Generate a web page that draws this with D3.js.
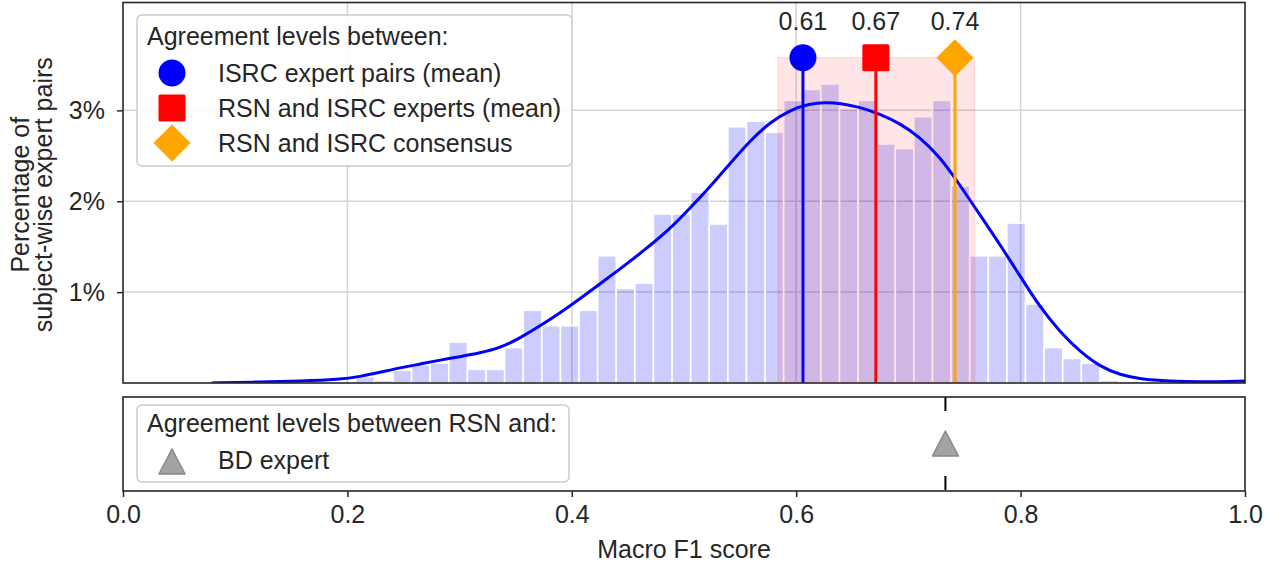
<!DOCTYPE html>
<html>
<head>
<meta charset="utf-8">
<script src="https://cdn.jsdelivr.net/npm/d3@7"></script>
<style>
  html, body { margin: 0; padding: 0; background: #fff; }
  svg { display: block; }
  text { font-family: "Liberation Sans", Arial, sans-serif; fill: #262626; }
</style>
</head>
<body>
<svg id="chart" width="1276" height="565"></svg>
<script>
// ---------------- data ----------------
const binStart = 0.2075;
const binWidth = 0.01658;
const histPct = [0.07, 0.03, 0.14, 0.20, 0.22, 0.45, 0.15, 0.15, 0.39, 0.80,
                 0.63, 0.63, 0.80, 1.40, 1.04, 1.10, 1.86, 1.86, 2.10, 1.75,
                 2.82, 2.88, 2.76, 3.11, 3.23, 3.29, 3.02, 3.11, 2.63, 2.58,
                 2.93, 3.11, 2.17, 1.40, 1.40, 1.76, 0.87, 0.39, 0.27, 0.22,
                 0.03, 0, 0, 0, 0, 0, 0, 0.03];
const kdeX = [0.079, 0.122, 0.158, 0.193, 0.211, 0.229, 0.247, 0.265, 0.283, 0.300,
              0.318, 0.336, 0.354, 0.372, 0.390, 0.407, 0.425, 0.443, 0.461,
              0.488, 0.505, 0.523, 0.541, 0.559, 0.577, 0.595, 0.612, 0.626, 0.639,
              0.657, 0.675, 0.693, 0.710, 0.728, 0.743, 0.764, 0.782, 0.800, 0.817,
              0.835, 0.853, 0.871, 0.889, 0.906, 0.933, 0.960, 1.000];
const kdeY = [0.000, 0.011, 0.022, 0.040, 0.070, 0.117, 0.168, 0.209, 0.253, 0.289,
              0.330, 0.385, 0.495, 0.630, 0.775, 0.925, 1.090, 1.255, 1.425,
              1.700, 1.920, 2.157, 2.414, 2.670, 2.872, 3.007, 3.073, 3.088, 3.080,
              3.036, 2.956, 2.853, 2.707, 2.487, 2.230, 1.846, 1.516, 1.168, 0.838,
              0.564, 0.344, 0.179, 0.088, 0.044, 0.019, 0.011, 0.022];
const markerNames = ["ISRC expert pairs (mean)", "RSN and ISRC experts (mean)", "RSN and ISRC consensus"];
const markerValues = [0.606, 0.671, 0.7415];
const markerLabels = ["0.61", "0.67", "0.74"];
const markerColors = ["#0000ff", "#ff0000", "#ffa500"];
const markerShapes = ["circle", "square", "diamond"];
const markerLevel = 3.58;
const bandRange = [0.584, 0.759];
const bdName = "BD expert";
const bdValue = 0.733;
const xTicks = [0.0, 0.2, 0.4, 0.6, 0.8, 1.0];
const yTicks = [1, 2, 3];
const legendTitleTop = "Agreement levels between:";
const legendTitleBottom = "Agreement levels between RSN and:";
const xLabel = "Macro F1 score";
const yLabelLines = ["Percentage of", "subject-wise expert pairs"];

// ---------------- layout ----------------
const svg = d3.select("#chart");
const L = 123, R = 1245;
const topY0 = 2.5, topY1 = 383;
const botY0 = 397, botY1 = 491;
const FS = 25;
const axisColor = "#262626";
const gridColor = "#d4d4d4";

const x = d3.scaleLinear().domain([0, 1]).range([L, R]);
const y = d3.scaleLinear().domain([0, 4.187]).range([topY1, topY0]);

svg.append("defs").append("clipPath").attr("id", "clipTop")
  .append("rect").attr("x", L).attr("y", topY0).attr("width", R - L).attr("height", topY1 - topY0);

// grid (top panel)
const gTop = svg.append("g");
gTop.selectAll(".gx").data(xTicks.filter(d => d > 0 && d < 1)).enter().append("line")
  .attr("x1", d => x(d)).attr("x2", d => x(d)).attr("y1", topY0).attr("y2", topY1)
  .attr("stroke", gridColor).attr("stroke-width", 1.5);
gTop.selectAll(".gy").data(yTicks).enter().append("line")
  .attr("x1", L).attr("x2", R).attr("y1", d => y(d)).attr("y2", d => y(d))
  .attr("stroke", gridColor).attr("stroke-width", 1.5);

const plot = svg.append("g").attr("clip-path", "url(#clipTop)");

// histogram bars
plot.selectAll(".bar").data(histPct).enter().append("rect")
  .attr("x", (d, i) => x(binStart + i * binWidth))
  .attr("width", (d, i) => x(binStart + (i + 1) * binWidth) - x(binStart + i * binWidth))
  .attr("y", d => y(d))
  .attr("height", d => topY1 - y(d))
  .attr("fill", "rgba(0,0,255,0.2)")
  .attr("stroke", "#ffffff").attr("stroke-width", 1.6);

// shaded band
plot.append("rect")
  .attr("x", x(bandRange[0])).attr("width", x(bandRange[1]) - x(bandRange[0]))
  .attr("y", y(markerLevel)).attr("height", topY1 - y(markerLevel))
  .attr("fill", "rgba(255,0,0,0.1)")
  .attr("stroke", "rgba(255,0,0,0.1)").attr("stroke-width", 1.5);

// KDE line
const kdePts = kdeX.map((v, i) => [v, kdeY[i]]);
plot.append("path").datum(kdePts)
  .attr("d", d3.line().x(d => x(d[0])).y(d => y(d[1])).curve(d3.curveBasis))
  .attr("fill", "none").attr("stroke", "#0000ff").attr("stroke-width", 3);

// marker symbols
function drawMarker(g, shape, cx, cy, color) {
  if (shape === "circle") {
    g.append("circle").attr("cx", cx).attr("cy", cy).attr("r", 13.5).attr("fill", color);
  } else if (shape === "square") {
    g.append("rect").attr("x", cx - 13.5).attr("y", cy - 13.5).attr("width", 27).attr("height", 27)
      .attr("rx", 1.5).attr("fill", color);
  } else if (shape === "diamond") {
    const h = 18.5;
    g.append("path").attr("d", `M${cx},${cy - h}L${cx + h},${cy}L${cx},${cy + h}L${cx - h},${cy}Z`)
      .attr("fill", color);
  } else if (shape === "triangle") {
    g.append("path").attr("d", `M${cx},${cy - 13}L${cx + 13},${cy + 12}L${cx - 13},${cy + 12}Z`)
      .attr("fill", "#a3a3a3").attr("stroke", "#888888").attr("stroke-width", 1.5)
      .attr("stroke-linejoin", "round");
  }
}

// vertical lines + markers + labels
const mk = svg.append("g");
markerValues.forEach((v, i) => {
  mk.append("line").attr("x1", x(v)).attr("x2", x(v)).attr("y1", topY1).attr("y2", y(markerLevel))
    .attr("stroke", markerColors[i]).attr("stroke-width", 3);
  drawMarker(mk, markerShapes[i], x(v), y(markerLevel), markerColors[i]);
  mk.append("text").attr("x", x(v)).attr("y", 30).attr("text-anchor", "middle")
    .attr("font-size", FS).text(markerLabels[i]);
});

// top legend
const lg = svg.append("g");
lg.append("rect").attr("x", 137).attr("y", 15).attr("width", 435).attr("height", 151)
  .attr("rx", 5).attr("fill", "rgba(255,255,255,0.85)").attr("stroke", "#cccccc").attr("stroke-width", 1.5);
lg.append("text").attr("x", 147).attr("y", 45).attr("font-size", FS).text(legendTitleTop);
markerNames.forEach((n, i) => {
  const cy = 73 + i * 35;
  drawMarker(lg, markerShapes[i], 172, cy, markerColors[i]);
  lg.append("text").attr("x", 218).attr("y", cy + 9).attr("font-size", FS).text(n);
});

// top panel frame + y axis
svg.append("rect").attr("x", L).attr("y", topY0).attr("width", R - L).attr("height", topY1 - topY0)
  .attr("fill", "none").attr("stroke", axisColor).attr("stroke-width", 1.6);
const yAxis = svg.append("g").attr("transform", `translate(${L},0)`)
  .call(d3.axisLeft(y).tickValues(yTicks).tickFormat(d => d + "%").tickSize(6).tickPadding(12));
yAxis.select(".domain").remove();
yAxis.selectAll("line").attr("stroke", axisColor).attr("stroke-width", 1.5);
yAxis.selectAll("text").attr("font-size", FS).attr("font-family", "Liberation Sans, Arial, sans-serif").attr("fill", axisColor);

// y label
const yl = svg.append("text").attr("transform", `translate(20, ${(topY0 + topY1) / 2 + 2}) rotate(-90)`)
  .attr("text-anchor", "middle").attr("font-size", FS);
yl.append("tspan").attr("x", 0).attr("dy", "0.35em").text(yLabelLines[0]);
yl.append("tspan").attr("x", 0).attr("dy", "0.92em").text(yLabelLines[1]);

// bottom panel
const bot = svg.append("g");
bot.append("line").attr("x1", x(bdValue)).attr("x2", x(bdValue)).attr("y1", botY0).attr("y2", botY1)
  .attr("stroke", "#000000").attr("stroke-width", 2).attr("stroke-dasharray", "14,65");
drawMarker(bot, "triangle", x(bdValue), 444, "#a3a3a3");

const lg2 = svg.append("g");
lg2.append("rect").attr("x", 137).attr("y", 405).attr("width", 432).attr("height", 77)
  .attr("rx", 5).attr("fill", "rgba(255,255,255,0.85)").attr("stroke", "#cccccc").attr("stroke-width", 1.5);
lg2.append("text").attr("x", 147).attr("y", 432).attr("font-size", FS).text(legendTitleBottom);
drawMarker(lg2, "triangle", 172, 462, "#a3a3a3");
lg2.append("text").attr("x", 218).attr("y", 469).attr("font-size", FS).text(bdName);

svg.append("rect").attr("x", L).attr("y", botY0).attr("width", R - L).attr("height", botY1 - botY0)
  .attr("fill", "none").attr("stroke", axisColor).attr("stroke-width", 1.6);

const xAxis = svg.append("g").attr("transform", `translate(0,${botY1})`)
  .call(d3.axisBottom(x).tickValues(xTicks).tickFormat(d3.format(".1f")).tickSize(6).tickPadding(8));
xAxis.select(".domain").remove();
xAxis.selectAll("line").attr("stroke", axisColor).attr("stroke-width", 1.5);
xAxis.selectAll("text").attr("font-size", FS).attr("font-family", "Liberation Sans, Arial, sans-serif").attr("fill", axisColor);

svg.append("text").attr("x", x(0.5)).attr("y", 558).attr("text-anchor", "middle")
  .attr("font-size", FS).text(xLabel);
</script>
</body>
</html>
